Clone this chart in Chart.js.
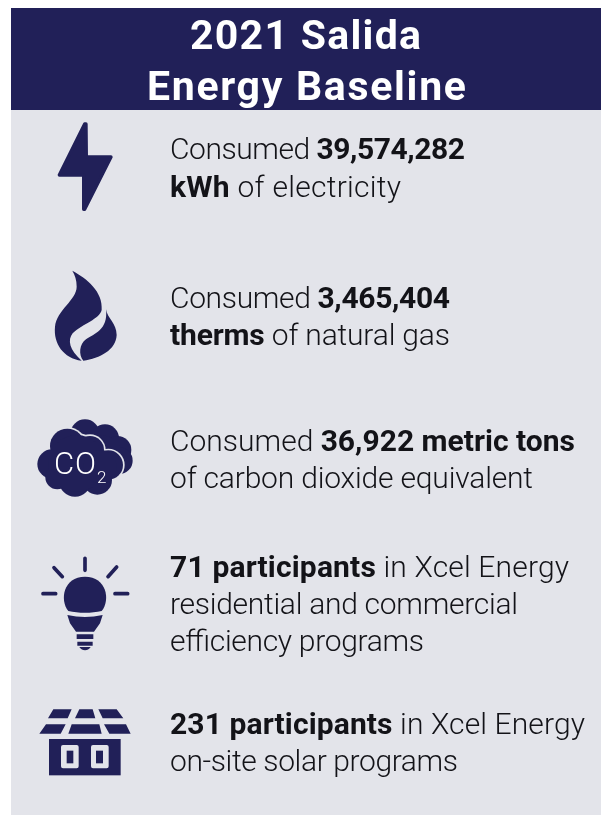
<!DOCTYPE html>
<html><head><meta charset="utf-8">
<style>
html,body{margin:0;padding:0;background:#fff;width:603px;height:815px;overflow:hidden}
#panel{position:absolute;left:11px;top:110px;width:590px;height:705px;background:#e3e4ea}
#head{position:absolute;left:11px;top:8px;width:590px;height:102px;background:#212058}
#c{position:absolute;left:0;top:0;filter:blur(.35px)}
#t{position:absolute;left:0;top:0;filter:blur(.3px)}
text{font-family:Roboto,"Liberation Sans",sans-serif}
</style>
<script src="https://cdn.jsdelivr.net/npm/chart.js@4"></script>
</head><body>
<div id="head"></div><div id="panel"></div>
<canvas id="c" width="603" height="815"></canvas>
<svg id="t" width="603" height="815" xmlns="http://www.w3.org/2000/svg"></svg>
<script>
const NAVY='#212058', BG='#e3e4ea', INK='#131318';
const titleLines=["2021 Salida","Energy Baseline"];
const energyValues=["39,574,282","3,465,404","36,922 metric tons"];
const programValues=["71 participants","231 participants"];
// each text line: pieces of [text, isBold]
const statLines=[
 [["Consumed ",0],[energyValues[0],1]],
 [["kWh",1],[" of electricity",0]],
 [["Consumed ",0],[energyValues[1],1]],
 [["therms",1],[" of natural gas",0]],
 [["Consumed ",0],[energyValues[2],1]],
 [["of carbon dioxide equivalent",0]],
 [[programValues[0],1],[" in Xcel Energy",0]],
 [["residential and commercial",0]],
 [["efficiency programs",0]],
 [[programValues[1],1],[" in Xcel Energy",0]],
 [["on-site solar programs",0]]
];
const lineBaselines=[159,197,308,345,451,488,577,614,651,734,771];
const lineEnds=[465,401,450,450,575,533,569,518,424,585,458];
const iconNames=["electricity","gas","co2","efficiency","solar"];

// icon glyphs, authored in 3x units inside a crop box [x,y,w,h]
const iconBoxes={electricity:[20,110,120,130],gas:[20,240,120,130],co2:[20,400,130,110],efficiency:[20,545,130,110],solar:[20,695,130,120]};
const glyphs={
 electricity(g){g.fillStyle=NAVY;g.strokeStyle=NAVY;g.lineWidth=10;g.lineJoin='round';
  const p=new Path2D('M194 42 L198 42 L199 141 L273 141 L194 298 L191 298 L191 195 L118 195 Z');g.fill(p);g.stroke(p);},
 gas(g){g.translate(0,-390);g.fillStyle=NAVY;
  g.fill(new Path2D('M157 482 C200 505 250 545 245 600 C238 628 190 640 158 670 C142 690 148 720 185 752 C130 745 100 700 105 650 C110 600 170 570 170 530 C170 510 165 495 157 482 Z'));
  g.fill(new Path2D('M258 598 C262 625 290 640 290 675 C288 720 240 745 190 752 C175 735 178 702 198 688 C222 672 265 660 258 598 Z'));},
 co2(g){const back=[[195,102,44],[255,115,42],[292,150,42],[298,182,40],[240,175,70]];
  const front=[[142,138,52],[210,150,42],[96,192,44],[265,195,44],[165,242,48],[232,240,44],[112,232,36],[170,190,85],[240,200,50]];
  const dots=(l,e,c)=>{g.fillStyle=c;l.forEach(d=>{g.beginPath();g.arc(d[0],d[1],d[2]+e,0,7);g.fill();});};
  dots(back,0,NAVY);dots(front,5,BG);dots(front,0,NAVY);},
 efficiency(g){g.strokeStyle=NAVY;g.lineWidth=11;g.lineCap='round';
  g.stroke(new Path2D('M195 40 L195 76 M102 68 L127 95 M290 66 L264 95 M69 146 L107 146 M285 146 L323 146'));
  g.fillStyle=NAVY;
  g.fill(new Path2D('M145 198 C118 165 130 95 195 95 C260 95 272 165 245 198 C215 205 175 205 145 198 Z'));
  g.fill(new Path2D('M142 210 Q195 222 248 210 L240 235 L222 260 L168 260 L150 235 Z'));
  g.fill(new Path2D('M170 268 H220 V282 H170 Z M172 290 H218 V302 H172 Z'));
  g.fill(new Path2D('M178 306 L212 306 Q205 316 195 316 Q185 316 178 306 Z'));},
 solar(g){g.fillStyle=NAVY;
  g.fill(new Path2D('M100 43 L155 43 L143 70 L84 70 Z M178 43 L218 43 L226 70 L165 70 Z M235 43 L290 43 L310 70 L248 70 Z M78 88 L137 88 L122 116 L58 116 Z M155 88 L238 88 L245 116 L145 116 Z M252 88 L318 88 L332 116 L268 116 Z'));
  g.fillRect(87,132,215,109);
  g.fillStyle=BG;g.beginPath();g.roundRect(123,150,53,70,6);g.roundRect(213,150,53,70,6);g.fill();
  g.fillStyle=NAVY;g.fillRect(140,167,20,38);g.fillRect(228,167,21,38);}
};
function glyphCanvas(name){const b=iconBoxes[name],c=document.createElement('canvas');
 c.width=b[2];c.height=b[3];const g=c.getContext('2d');g.scale(1/3,1/3);glyphs[name](g);return c;}

new Chart(document.getElementById('c'),{type:'scatter',
 data:{datasets:[{label:'Baseline icons',
  data:iconNames.map(n=>({x:iconBoxes[n][0]+iconBoxes[n][2]/2,y:iconBoxes[n][1]+iconBoxes[n][3]/2})),
  pointStyle:iconNames.map(glyphCanvas),pointRadius:10,clip:false}]},
 options:{responsive:false,animation:false,layout:{padding:0,autoPadding:false},
  plugins:{legend:{display:false},tooltip:{enabled:false}},
  scales:{x:{type:'linear',min:0,max:603,display:false},y:{type:'linear',min:0,max:815,reverse:true,display:false}}}
});

const svg=document.getElementById('t'),NS=svg.namespaceURI;
function addText(x,y,parts,o){const t=document.createElementNS(NS,'text');
 t.setAttribute('x',x);t.setAttribute('y',y);t.setAttribute('font-size',o.size);t.setAttribute('fill',o.fill);
 if(o.len){t.setAttribute('textLength',o.len);t.setAttribute('lengthAdjust','spacing');}
 parts.forEach(p=>{const s=document.createElementNS(NS,'tspan');s.setAttribute('font-weight',p[1]?700:300);
  s.style.whiteSpace='pre';s.textContent=p[0];t.appendChild(s);});
 svg.appendChild(t);}
addText(190,49,[[titleLines[0],1]],{size:41,fill:'#fff',len:231});
addText(147,100,[[titleLines[1],1]],{size:41,fill:'#fff',len:319});
statLines.forEach((l,i)=>addText(170,lineBaselines[i],l,{size:30,fill:INK,len:lineEnds[i]-170}));
addText(54,474,[["CO",0]],{size:31,fill:'#fff',len:42});
addText(97,483,[["2",0]],{size:17,fill:'#fff'});
</script>
</body></html>
